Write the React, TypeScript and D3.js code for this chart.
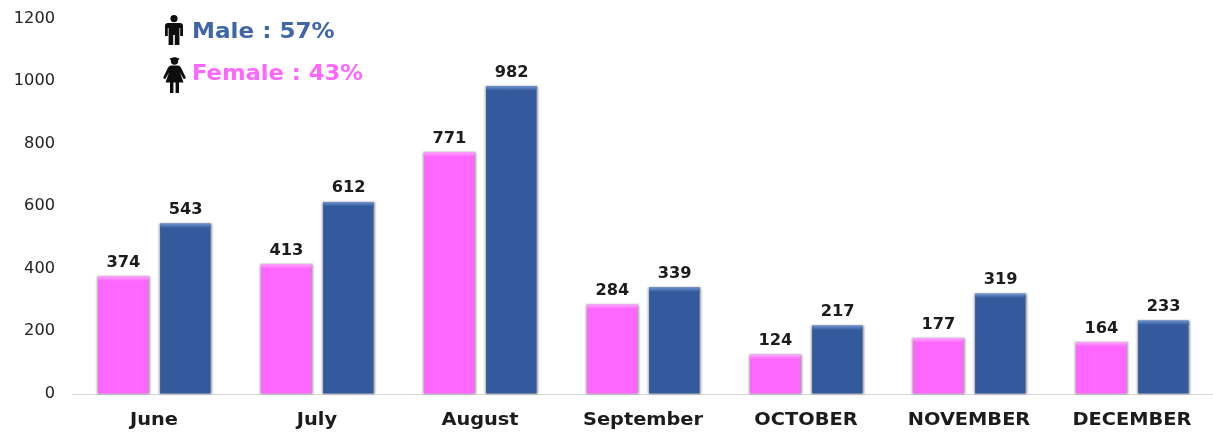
import React from "react";
import * as d3 from "d3";

const months = ["June", "July", "August", "September", "OCTOBER", "NOVEMBER", "DECEMBER"];
const femaleValues = [374, 413, 771, 284, 124, 177, 164];
const maleValues = [543, 612, 982, 339, 217, 319, 233];
const seriesNames = ["Female", "Male"];
const seriesColors = ["#ff66ff", "#325a9c"];
const topColors = ["#ffa8ff", "#6f93cf"];
const yTicks = [0, 200, 400, 600, 800, 1000, 1200];
const legendMale = "Male : 57%";
const legendFemale = "Female : 43%";

const W = 1213;
const H = 432;
const font = "'DejaVu Sans', Verdana, sans-serif";

function Wide({ x, y, sx, anchor, size, bold, fill, children }: any) {
  return (
    <text
      transform={`translate(${x},${y}) scale(${sx},1)`}
      textAnchor={anchor}
      fontFamily={font}
      fontSize={size}
      fontWeight={bold ? 700 : 400}
      fill={fill}
    >
      {children}
    </text>
  );
}

function Male({ x, y }: { x: number; y: number }) {
  return (
    <g transform={`translate(${x},${y})`} fill="#111">
      <circle cx="9" cy="3.6" r="3.6" />
      <path d="M3 8 H15 Q18 8 18 11 V21 H15.2 V13 H14.4 V30 H9.8 V20 H8.2 V30 H3.6 V13 H2.8 V21 H0 V11 Q0 8 3 8 Z" />
    </g>
  );
}

function Female({ x, y }: { x: number; y: number }) {
  return (
    <g transform={`translate(${x},${y})`} fill="#111">
      <circle cx="11.5" cy="4" r="3.7" />
      <ellipse cx="11.5" cy="1.9" rx="4.8" ry="1.1" />
      <path d="M8 8.5 H15 Q17 8.8 18.2 11 L23 21 L20.8 22.2 L17 15.5 L20.5 25.5 H16 V36 H12.6 V25.5 H10.4 V36 H7 V25.5 H2.5 L6 15.5 L2.2 22.2 L0 21 L4.8 11 Q6 8.8 8 8.5 Z" />
    </g>
  );
}

export default function App() {
  const y = d3.scaleLinear().domain([0, 1200]).range([393.5, 18]);
  const x0 = d3.scaleBand<string>().domain(months).range([72, 1213]);
  const x1 = d3.scaleBand<string>().domain(seriesNames).range([26, 139]).paddingInner(0.18);
  const seriesValues = [femaleValues, maleValues];
  const bw = x1.bandwidth();

  return (
    <svg
      width={W}
      height={H}
      viewBox={`0 0 ${W} ${H}`}
      style={{ position: "absolute", left: 0, top: 0, display: "block", background: "#fff" }}
    >
      <defs>
        <filter id="soft" x="-5%" y="-5%" width="110%" height="110%">
          <feGaussianBlur stdDeviation="0.45" />
        </filter>
        <filter id="barShadow" x="-15%" y="-5%" width="130%" height="110%">
          <feGaussianBlur stdDeviation="0.9" />
        </filter>
        {seriesNames.map((s, si) => (
          <linearGradient key={s} id={`cap${si}`} x1="0" x2="0" y1="0" y2="1">
            <stop offset="0" stopColor={topColors[si]} />
            <stop offset="1" stopColor={seriesColors[si]} />
          </linearGradient>
        ))}
      </defs>

      <line x1={72} x2={W} y1={394.5} y2={394.5} stroke="#d6d6d6" strokeWidth={1.2} />

      {seriesNames.map((s, si) =>
        months.map((m, i) => {
          const v = seriesValues[si][i];
          const bx = (x0(m) as number) + (x1(s) as number);
          const top = y(v);
          const base = y(0);
          return (
            <g key={s + m}>
              <rect x={bx - 0.8} y={top} width={bw + 1.8} height={base - top + 0.5} fill="#777" opacity={0.75} filter="url(#barShadow)" />
              <rect x={bx} y={top} width={bw - 0.5} height={base - top} fill={seriesColors[si]} />
              <rect x={bx} y={top} width={bw - 0.5} height={4.5} fill={`url(#cap${si})`} />
            </g>
          );
        })
      )}

      <g filter="url(#soft)">
        {yTicks.map((t) => (
          <Wide key={t} x={55} y={y(t) + 4.5} sx={1.08} anchor="end" size={15} fill="#222">
            {t}
          </Wide>
        ))}

        {months.map((m) => (
          <Wide key={m} x={(x0(m) as number) + x0.bandwidth() / 2 + 0.5} y={424.5} sx={1.14} anchor="middle" size={17} bold fill="#1a1a1a">
            {m}
          </Wide>
        ))}

        {seriesNames.map((s, si) =>
          months.map((m, i) => {
            const v = seriesValues[si][i];
            return (
              <Wide
                key={s + m}
                x={(x0(m) as number) + (x1(s) as number) + bw / 2}
                y={y(v) - 9.5}
                sx={1.08}
                anchor="middle"
                size={15}
                bold
                fill="#1a1a1a"
              >
                {v}
              </Wide>
            );
          })
        )}

        <Wide x={192} y={38} sx={1.05} size={22} bold fill={"#3f66a8"}>
          {legendMale}
        </Wide>
        <Wide x={192} y={80} sx={1.03} size={22} bold fill={seriesColors[0]}>
          {legendFemale}
        </Wide>
        <Male x={165} y={15} />
        <Female x={163} y={57} />
      </g>
    </svg>
  );
}
